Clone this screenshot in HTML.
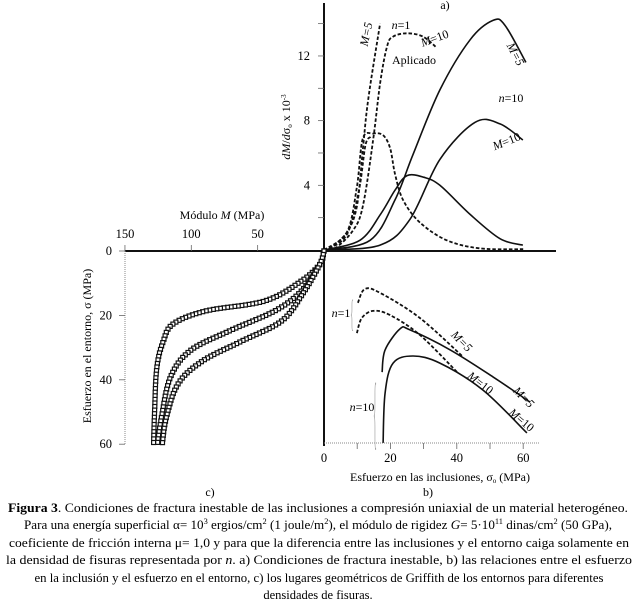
<!DOCTYPE html>
<html><head><meta charset="utf-8"><style>
html,body{margin:0;padding:0;background:#fff;}
svg{display:block;font-family:"Liberation Serif",serif;}
</style></head><body>
<svg id="fig" width="636" height="603" viewBox="0 0 636 603" xmlns="http://www.w3.org/2000/svg">
<g id="axes"></g>
<g id="marks"></g>
<g id="labels" font-size="12">
  <text x="445" y="9" text-anchor="middle" font-size="12">a)</text>
  <text x="428" y="496" text-anchor="middle" font-size="12">b)</text>
  <text x="210" y="496" text-anchor="middle" font-size="12">c)</text>
  <text transform="translate(290,127) rotate(-90)" text-anchor="middle" font-size="12"><tspan font-style="italic">dM</tspan>/<tspan font-style="italic">d</tspan>σ<tspan font-size="7" dy="2">o</tspan><tspan dy="-2"> x 10</tspan><tspan font-size="7" dy="-4">-3</tspan></text>
  <text x="222" y="219" text-anchor="middle" font-size="12">Módulo <tspan font-style="italic">M</tspan>  (MPa)</text>
  <text transform="translate(91,346) rotate(-90)" text-anchor="middle" font-size="12">Esfuerzo en el entorno, σ (MPa)</text>
  <text x="440" y="481" text-anchor="middle" font-size="12">Esfuerzo en las inclusiones,  σ<tspan font-size="7" dy="2">o</tspan><tspan dy="-2"> (MPa)</tspan></text>
  <text transform="translate(370,35) rotate(-78)" text-anchor="middle" font-size="12" font-style="italic">M=5</text>
  <text x="401" y="29" text-anchor="middle" font-size="12"><tspan font-style="italic">n</tspan>=1</text>
  <text transform="translate(436,42) rotate(-20)" text-anchor="middle" font-size="12"><tspan font-style="italic">M</tspan>=10</text>
  <text x="414" y="64" text-anchor="middle" font-size="12">Aplicado</text>
  <text transform="translate(512,56) rotate(62)" text-anchor="middle" font-size="12" font-style="italic">M=5</text>
  <text x="511" y="102" text-anchor="middle" font-size="12"><tspan font-style="italic">n</tspan>=10</text>
  <text transform="translate(508,145) rotate(-22)" text-anchor="middle" font-size="12"><tspan font-style="italic">M</tspan>=10</text>
  <text x="341" y="317" text-anchor="middle" font-size="12"><tspan font-style="italic">n</tspan>=1</text>
  <text x="362" y="411" text-anchor="middle" font-size="12"><tspan font-style="italic">n</tspan>=10</text>
  <text transform="translate(459,344) rotate(45)" text-anchor="middle" font-size="12" font-style="italic">M=5</text>
  <text transform="translate(478,386) rotate(38)" text-anchor="middle" font-size="12"><tspan font-style="italic">M</tspan>=10</text>
  <text transform="translate(521,400) rotate(45)" text-anchor="middle" font-size="12" font-style="italic">M=5</text>
  <text transform="translate(519,423) rotate(40)" text-anchor="middle" font-size="12"><tspan font-style="italic">M</tspan>=10</text>
  <text transform="translate(352,313) scale(0.6,3.2)" text-anchor="middle" font-size="12" fill="#999" dy="4">{</text>
  <text transform="translate(375,412) scale(0.6,6.8)" text-anchor="middle" font-size="12" fill="#999" dy="4">{</text>
</g>
<g id="caption" font-size="12.5" text-anchor="middle">
  <text x="318" y="512" textLength="620" lengthAdjust="spacingAndGlyphs"><tspan font-weight="bold">Figura 3</tspan>. Condiciones de fractura inestable de las inclusiones a compresión uniaxial de un material heterogéneo.</text>
  <text x="318" y="529" textLength="588" lengthAdjust="spacingAndGlyphs">Para una energía superficial α= 10<tspan font-size="8" dy="-5">3</tspan><tspan dy="5"> ergios/cm</tspan><tspan font-size="8" dy="-5">2</tspan><tspan dy="5"> (1 joule/m</tspan><tspan font-size="8" dy="-5">2</tspan><tspan dy="5">), el módulo de rigidez </tspan><tspan font-style="italic">G</tspan>= 5·10<tspan font-size="8" dy="-5">11</tspan><tspan dy="5"> dinas/cm</tspan><tspan font-size="8" dy="-5">2</tspan><tspan dy="5"> (50 GPa),</tspan></text>
  <text x="319" y="547" textLength="620" lengthAdjust="spacingAndGlyphs">coeficiente de fricción interna μ= 1,0 y para que la diferencia entre las inclusiones y el entorno caiga solamente en</text>
  <text x="319" y="564" textLength="626" lengthAdjust="spacingAndGlyphs">la densidad de fisuras representada por <tspan font-style="italic">n</tspan>. a) Condiciones de fractura inestable, b) las relaciones entre el esfuerzo</text>
  <text x="319" y="582" textLength="569" lengthAdjust="spacingAndGlyphs">en la inclusión y el esfuerzo en el entorno, c) los lugares geométricos de Griffith de los entornos para diferentes</text>
  <text x="318" y="599">densidades de fisuras.</text>
</g>
</svg>
<script>
// ---- panel a data (sigma_o MPa, dM/dsigma x1e-3) ----
const aBigSolidX = [0,13.9,21.4,26.8,34.9,44,50.9,54.5,60.8];
const aBigSolidY = [0,0.6,3.1,5.9,9.9,13,14.2,13.9,11.6];
const aM10SolidX = [0,16.9,25.9,34.9,45.5,53,59.9];
const aM10SolidY = [0,0.3,1.9,5.6,7.9,7.8,6.8];
const aPeakSolidX = [0,10.8,17,21.4,25,30,34.9,44,53,59.9];
const aPeakSolidY = [0,0.6,2.2,3.7,4.6,4.5,4,2.2,0.7,0.3];
const aM5DashX = [0,1.8,6.9,9.9,11.7,13.3,16.9];
const aM5DashY = [0,0.1,1.1,2.7,6.2,9.3,14.0];
const aM10DashX = [0,3.3,8.7,11.7,14.8,16.9,19,20.8,25,29.8,34];
const aM10DashY = [0,0.1,1.2,2.7,6.8,10.3,12.6,13.2,13.4,13.2,12.5];
const aPeakDashX = [0,6.9,9.9,11.7,14.8,17.8,19.9,21.4,23.8,28.9,37,47,60];
const aPeakDashY = [0,1.1,3.9,6.9,7.2,7.1,6.3,4.7,3.1,1.7,0.6,0.1,0.05];
const aPeakDash2X = [0,5,8,10.8,12.5,14];
const aPeakDash2Y = [0,0.5,1.5,4,6.5,7];
// ---- panel b data (sigma_o MPa, sigma MPa) ----
const bDashM5X = [10.2,12.3,16.9,28.9,41.9];
const bDashM5Y = [16.1,11.8,13,20.8,32.9];
const bDashM10X = [9.9,11.4,14.8,19.9,28.9,40.1];
const bDashM10Y = [25.5,20.8,18.6,19.9,26.1,37.6];
const bSolidM5X = [17.5,18.4,22.9,25.9,38,50.9,62];
const bSolidM5Y = [37.6,30.7,24.2,24.5,30.7,39.1,46.9];
const bSolidM10X = [17.8,18.4,20.8,26.8,34.9,47.9,61.1];
const bSolidM10Y = [59.6,44.1,34.8,32.6,34.8,43.2,56.5];
// ---- panel c data (Modulo M MPa, sigma MPa) ----
const c1M = [0,3,17,44.5,89,113.6,121,126,127.7,128.4];
const c1S = [0,4,9.3,15.5,18.6,22.6,27.9,36.2,50.5,59.8];
const c2M = [0,3,17,37.1,71.3,101,115.8,122.5,125.5];
const c2S = [0,4,12.4,18.6,24.8,31,39.3,51.7,59.8];
const c3M = [0,3,15.6,31.9,61.6,91.3,109.9,118.8,121.8];
const c3S = [0,4,13,21.7,27.9,34.1,41.2,51.7,59.8];
// ---- ticks ----
const aTicks = [4,8,12];
const aMinor = [2,4,6,8,10,12,14];
const bTicks = [0,20,40,60];
const bMinor = [10,20,30,40,50,60];
const cTicksM = [150,100,50];
const cTicksS = [0,20,40,60];

const xR = v => 324 + v*3.32;
const yUp = v => 250 - v*16.17;
const yDn = s => 251 + s*3.22;
const xL = m => 324 - m*1.327;
const NS = 'http://www.w3.org/2000/svg';
const axes = document.getElementById('axes');
const marks = document.getElementById('marks');

function smooth(pts){
  let d = 'M'+pts[0][0].toFixed(1)+','+pts[0][1].toFixed(1);
  for(let i=0;i<pts.length-1;i++){
    const p0=pts[i-1]||pts[i], p1=pts[i], p2=pts[i+1], p3=pts[i+2]||p2;
    const c1=[p1[0]+(p2[0]-p0[0])/6, p1[1]+(p2[1]-p0[1])/6];
    const c2=[p2[0]-(p3[0]-p1[0])/6, p2[1]-(p3[1]-p1[1])/6];
    d+=' C'+c1[0].toFixed(1)+','+c1[1].toFixed(1)+' '+c2[0].toFixed(1)+','+c2[1].toFixed(1)+' '+p2[0].toFixed(1)+','+p2[1].toFixed(1);
  }
  return d;
}
function line(parent,x1,y1,x2,y2,stroke,w,dash){
  const l=document.createElementNS(NS,'line');
  l.setAttribute('x1',x1);l.setAttribute('y1',y1);l.setAttribute('x2',x2);l.setAttribute('y2',y2);
  l.setAttribute('stroke',stroke);l.setAttribute('stroke-width',w);
  if(dash) l.setAttribute('stroke-dasharray',dash);
  parent.appendChild(l);return l;
}
function txt(parent,x,y,s,anchor){
  const t=document.createElementNS(NS,'text');
  t.setAttribute('x',x);t.setAttribute('y',y);t.setAttribute('font-size','12.5');
  t.setAttribute('text-anchor',anchor);t.textContent=s;parent.appendChild(t);return t;
}
function curve(xs,ys,fx,fy,dash,name){
  const p=document.createElementNS(NS,'path');
  p.setAttribute('d',smooth(xs.map((x,i)=>[fx(x),fy(ys[i])])));
  p.setAttribute('fill','none');p.setAttribute('stroke','#111');
  p.setAttribute('stroke-width', dash?'1.8':'1.6');
  if(dash) p.setAttribute('stroke-dasharray','3.5,2');
  
  
  marks.appendChild(p);return p;
}

// axes
let a;
a=line(axes,324,3,324,446,'#111',2);


a=line(axes,125,251,556,251,'#111',2);


a=line(axes,125,251,125,444,'#888',1,'1,1');


a=line(axes,324,443,540,443,'#888',1,'1,1');


aMinor.forEach(v=>{line(axes,318,yUp(v),324,yUp(v),'#666',0.8);});
aTicks.forEach(v=>{
  const t=txt(axes,310,yUp(v)+4,String(v),'end');
  
  
});
bMinor.forEach(v=>{line(axes,xR(v),443,xR(v),449,'#666',0.8);});
bTicks.forEach(v=>{
  const t=txt(axes,xR(v),462,String(v),'middle');
  
  
});
cTicksM.forEach(v=>{
  line(axes,xL(v),245,xL(v),251,'#666',0.8);
  const t=txt(axes,xL(v),238,String(v),'middle');
  
  
});
cTicksS.forEach(v=>{
  line(axes,119,yDn(v),125,yDn(v),'#666',0.8);
  const t=txt(axes,112,yDn(v)+4,String(v),'end');
  
  
});

// panel a
curve(aBigSolidX,aBigSolidY,xR,yUp,false,'a-n10-m5-curve');
curve(aM10SolidX,aM10SolidY,xR,yUp,false,'a-n10-m10-curve');
curve(aPeakSolidX,aPeakSolidY,xR,yUp,false,'a-peak-solid-curve');
curve(aM5DashX,aM5DashY,xR,yUp,true,'a-n1-m5-curve');
curve(aM10DashX,aM10DashY,xR,yUp,true,'a-n1-m10-curve');
curve(aPeakDashX,aPeakDashY,xR,yUp,true,'a-peak-dashed-curve');
curve(aPeakDash2X,aPeakDash2Y,xR,yUp,true,'a-peak-dashed-curve-2');
// panel b
curve(bDashM5X,bDashM5Y,xR,yDn,true,'b-n1-m5-curve');
curve(bDashM10X,bDashM10Y,xR,yDn,true,'b-n1-m10-curve');
curve(bSolidM5X,bSolidM5Y,xR,yDn,false,'b-n10-m5-curve');
curve(bSolidM10X,bSolidM10Y,xR,yDn,false,'b-n10-m10-curve');
// panel c with square markers
[[c1M,c1S],[c2M,c2S],[c3M,c3S]].forEach((c,k)=>{
  const p=curve(c[0],c[1],xL,yDn,false,'c-griffith-curve-'+(k+1));
  const L=p.getTotalLength();
  const g=document.createElementNS(NS,'g');
  
  
  for(let s=0;s<=L;s+=3.6){
    const pt=p.getPointAtLength(s);
    const r=document.createElementNS(NS,'rect');
    r.setAttribute('x',(pt.x-2).toFixed(1));r.setAttribute('y',(pt.y-2).toFixed(1));
    r.setAttribute('width','4');r.setAttribute('height','4');
    r.setAttribute('fill','#fff');r.setAttribute('stroke','#111');r.setAttribute('stroke-width','1.2');
    g.appendChild(r);
  }
  marks.appendChild(g);
});
</script>
</body></html>
